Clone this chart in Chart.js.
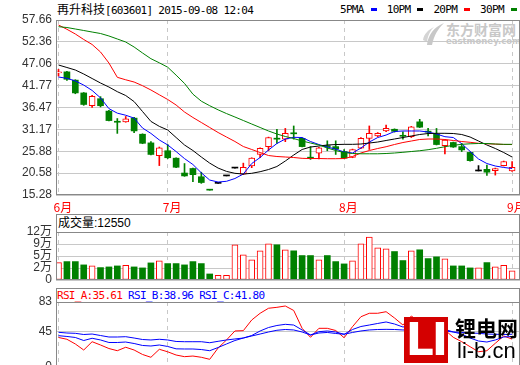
<!DOCTYPE html>
<html>
<head>
<meta charset="utf-8">
<title>再升科技 603601</title>
<script src="https://cdn.jsdelivr.net/npm/chart.js@4.4.1/dist/chart.umd.min.js"></script>
<style>
html, body { margin: 0; padding: 0; background: #fff; overflow: hidden; }
body { position: relative; width: 520px; height: 365px; font-family: 'Liberation Sans', 'Noto Sans CJK SC', sans-serif; }
canvas { position: absolute; left: 0; }
.abs { position: absolute; white-space: pre; }
.mono { font-family: 'DejaVu Sans Mono', 'Noto Sans CJK SC', monospace; font-size: 11px; letter-spacing: -0.7px; line-height: 12px; }
.cjk { font-family: 'Noto Sans CJK SC', sans-serif; letter-spacing: 0; font-size: 12px; }
.box { position: absolute; left: 56px; width: 464px; box-sizing: border-box; border: 1px solid #888; border-bottom: none; }
</style>
</head>
<body>
<div class="abs mono" style="left:57px;top:3px;"><span class="cjk">再升科技</span>[603601] 2015-09-08 12:04</div>
<div class="abs mono" id="legend" style="left:340px;top:4px;"></div>
<svg style="position:absolute;left:422px;top:21px" width="24" height="25">
  <path d="M5 24 C6 14 12 6 22 2 C16 8 12 14 10 24 Z" fill="#c8c8c8"/>
  <path d="M1 19 C2 13 6 9 12 6 C8 10 6 14 5 21 Z" fill="#d4d4d4"/>
</svg>
<div class="abs" style="left:446px;top:21px;color:#c8c8c8;font:bold 14px 'Noto Sans CJK SC';line-height:17px;">东方财富网</div>
<div class="abs" style="left:446px;top:37px;color:#c8c8c8;font:bold 8.5px 'DejaVu Sans';line-height:9px;">eastmoney.com</div>

<canvas id="main" width="520" height="203" style="top:10px"></canvas>

<div class="box" style="top:214px;height:18px"></div>
<div class="abs" id="volTitle" style="left:58px;top:216px;font-size:12px;line-height:14px;color:#000"></div>
<canvas id="vol" width="520" height="66" style="top:222px"></canvas>

<div class="box" style="top:288px;height:14px"></div>
<div class="abs mono" id="rsiTitle" style="left:57px;top:290px"></div>
<canvas id="rsi" width="520" height="80" style="top:292px"></canvas>

<div class="abs" style="left:404px;top:317px;width:44px;height:46px;background:#d40000;"></div>
<div class="abs" style="left:404px;top:317px;width:44px;height:46px;color:#fff;font:bold 44px 'DejaVu Sans';line-height:46px;text-align:center;letter-spacing:-2px;">LI</div>
<div class="abs" style="left:455px;top:315px;font:bold 21px 'Noto Sans CJK SC';line-height:24px;color:#000">锂电网</div>
<div class="abs" style="left:457px;top:339px;font:22px 'Liberation Sans';line-height:24px;color:#000">li-b.cn</div>

<script>
// candles, one per trading day from early June to 2015-09-08
const opens  = [44.85, 45.1, 43.1, 40.0, 36.9, 38.6, 35.6, 33.0, 33.0, 33.9,
                30.0, 27.9, 24.8, 26.0, 24.2, 20.6, 21.7, 19.7, 16.5, 18.1,
                19.9, 21.8, 20.3, 22.3, 25.1, 27.0, 28.9, 28.8, 30.2, 29.0,
                24.4, 25.4, 27.2, 27.0, 25.8, 24.4, 26.6, 29.0, 29.6, 30.8,
                31.2, 29.6, 29.4, 33.0, 30.6, 30.0, 27.2, 28.0, 27.0, 25.6,
                21.1, 21.5, 21.2, 22.4, 21.1];
const highs  = [45.7, 45.2, 43.2, 40.1, 39.4, 39.1, 35.8, 33.8, 34.3, 34.1,
                30.1, 28.2, 26.9, 27.5, 24.3, 22.9, 21.8, 20.8, 16.5, 18.1,
                19.9, 21.8, 23.0, 24.3, 26.7, 29.3, 31.2, 31.4, 32.0, 29.1,
                27.0, 26.8, 28.4, 28.4, 26.3, 26.4, 29.2, 32.0, 30.4, 32.2,
                31.3, 30.6, 31.9, 33.6, 31.4, 31.4, 28.7, 28.1, 27.8, 25.7,
                22.4, 22.5, 21.8, 23.5, 23.4];
const lows   = [44.1, 43.0, 39.8, 37.0, 36.5, 36.6, 33.2, 30.2, 32.9, 30.4,
                27.7, 25.0, 22.4, 24.1, 21.9, 19.8, 18.5, 18.1, 16.45, 18.1,
                19.9, 21.8, 20.2, 21.9, 24.3, 26.0, 27.8, 28.2, 28.8, 26.9,
                23.9, 24.0, 26.0, 25.1, 24.1, 24.3, 26.5, 26.3, 29.4, 30.6,
                30.5, 28.8, 29.2, 31.6, 29.6, 27.4, 25.2, 26.8, 25.8, 23.5,
                21.1, 20.0, 20.1, 22.3, 21.0];
const closes = [44.9, 43.3, 40.0, 37.2, 39.2, 36.9, 33.3, 32.9, 33.7, 30.8,
                27.8, 25.1, 26.7, 24.3, 22.0, 19.9, 20.2, 18.3, 16.45, 18.1,
                19.9, 21.8, 22.0, 24.2, 26.6, 29.2, 28.8, 30.2, 30.1, 27.0,
                24.2, 26.7, 27.0, 26.4, 24.2, 26.3, 29.0, 30.2, 30.2, 31.4,
                30.7, 29.5, 31.8, 31.7, 30.5, 27.5, 28.6, 26.9, 26.2, 23.6,
                21.1, 20.8, 21.7, 23.4, 22.0];

const ma5  = [43.85, 43.54, 42.9, 41.9, 40.6, 38.8, 36.2, 35.1, 34.6, 33.9,
              31.5, 30.2, 28.6, 27.4, 25.8, 24.1, 22.66, 20.65, 18.9, 18.42,
              18.6, 19.27, 20.36, 22.9, 24.36, 26.18, 27.75, 28.84, 29.25, 29.2,
              28.23, 27.5, 26.9, 26.4, 25.69, 25.45, 26.66, 28.1, 29.2, 29.8,
              30.66, 30.78, 30.78, 30.78, 30.53, 30.05, 29.4, 29.2, 27.7, 25.85,
              24.0, 22.9, 22.3, 21.95, 21.7];
const ma10 = [46.76, 46.16, 45.55, 44.58, 43.49, 42.4, 41.43, 40.3, 39.37, 37.9,
              35.5, 33.1, 31.9, 31.02, 29.2, 27.39, 26.05, 24.48, 23.0, 21.8,
              21.0, 20.53, 20.36, 20.53, 20.92, 21.45, 22.18, 23.51, 24.96, 26.3,
              26.9, 27.14, 27.39, 27.5, 27.55, 27.55, 27.63, 27.87, 28.11, 28.48,
              28.84, 29.2, 29.57, 29.93, 30.17, 30.22, 30.22, 30.17, 29.93, 29.32,
              28.35, 27.39, 26.54, 25.57, 24.48];
const ma20 = [56.45, 55.41, 54.27, 52.94, 51.73, 49.91, 47.25, 43.78, 43.18, 42.64,
              41.75, 40.71, 39.55, 38.41, 37.07, 35.38, 34.05, 32.84, 31.63, 30.41,
              29.32, 28.24, 27.02, 26.3, 25.57, 24.84, 24.6, 24.48, 24.36, 24.16,
              24.11, 24.11, 24.07, 24.07, 24.11, 24.6, 25.45, 26.05, 26.54, 26.97,
              27.51, 27.99, 28.35, 28.72, 28.84, 28.84, 28.72, 28.48, 28.23, 28.04,
              27.8, 27.7, 27.6, 27.52, 27.5];
const ma30 = [56.04, 55.84, 55.48, 55.12, 54.75, 54.39, 53.79, 53.06, 52.33, 51.12,
              49.67, 48.29, 47.29, 46.23, 44.3, 42.3, 39.7, 38.0, 36.9, 35.9,
              35.0, 34.17, 33.32, 32.47, 31.63, 30.78, 30.05, 29.45, 28.96, 28.35,
              27.87, 27.39, 26.66, 26.05, 25.57, 25.33, 25.26, 25.26, 25.26, 25.33,
              25.45, 25.62, 25.81, 26.0, 26.25, 26.59, 26.97, 27.31, 27.55, 27.68,
              27.75, 27.75, 27.63, 27.55, 27.55];

const volumes = [42100, 44500, 44500, 36500, 34000, 30000, 31600, 34000, 35700, 31600,
                 29200, 41300, 46200, 39700, 39700, 36500, 44500, 39700, 14600, 11400,
                 11400, 85100, 60800, 48600, 70500, 87600, 85100, 73000, 70500, 59100,
                 59100, 48600, 59100, 44500, 38900, 46200, 87600, 103800, 77800, 75400,
                 68800, 47000, 70500, 73000, 51800, 55900, 51100, 34000, 34000, 29200,
                 29200, 42100, 31600, 35700, 21900];
const volumeNow = 12550;

const rsiA = [37.7, 35.4, 29.4, 21.7, 32.3, 28.1, 23.6, 20.8, 25.2, 21.7,
              16.0, 12.4, 22.6, 19.4, 15.3, 13.2, 14.0, 12.4, 9.8, 24.3,
              34.5, 46.0, 46.4, 60.0, 68.6, 75.0, 76.2, 77.9, 72.2, 49.4,
              37.9, 49.4, 49.4, 46.6, 37.4, 51.5, 64.2, 68.6, 68.6, 70.6,
              62.6, 53.6, 65.1, 57.5, 47.3, 40.9, 47.3, 37.9, 32.3, 25.9,
              19.5, 20.8, 30.3, 39.6, 35.61];
const rsiB = [40.0, 39.0, 37.7, 33.8, 36.7, 34.5, 31.3, 31.3, 31.9, 30.0,
              27.5, 26.8, 28.1, 26.2, 23.2, 23.0, 23.0, 22.3, 20.8, 24.9,
              29.4, 33.8, 37.0, 40.2, 46.0, 50.4, 53.0, 54.5, 53.6, 47.3,
              40.9, 45.1, 46.0, 44.7, 41.8, 47.9, 51.7, 53.6, 55.6, 57.5,
              54.9, 51.1, 52.4, 51.1, 49.2, 47.9, 48.1, 44.7, 42.1, 37.0,
              33.2, 31.9, 34.5, 38.3, 38.96];
const rsiC = [44.3, 43.4, 43.0, 41.5, 42.1, 40.2, 38.3, 38.3, 38.7, 37.0,
              35.1, 34.5, 35.4, 34.5, 32.6, 32.3, 32.3, 32.3, 31.0, 32.8,
              34.5, 35.8, 37.0, 39.6, 42.1, 44.7, 46.9, 47.9, 47.3, 44.7,
              40.9, 43.4, 44.1, 42.8, 41.8, 44.1, 46.0, 47.3, 47.9, 48.1,
              47.9, 47.3, 47.3, 46.6, 46.6, 46.0, 46.0, 44.7, 44.1, 43.4,
              43.0, 42.1, 41.8, 41.5, 41.8];

const priceTicks = [15.28, 20.58, 25.88, 31.17, 36.47, 41.77, 47.06, 52.36, 57.66];
const monthTicks = [0, 13, 34, 54];
const monthLabels = ['6月', '7月', '8月', '9月'];
const volTicks = [0, 29000, 58000, 87000, 116000];
const volTickLabels = ['0', '2万', '5万', '9万', '12万'];
const rsiTicks = [0, 45, 83];

const maNames = ['5PMA', '10PM', '20PM', '30PM'];
const RED = '#ff0000', GREEN = '#008000', BLACK = '#000000', BLUE = '#0000ff';
const maColors = [BLUE, BLACK, RED, GREEN];

Chart.defaults.font.family = "'Liberation Sans', 'Noto Sans CJK SC', sans-serif";
Chart.defaults.font.size = 12;
Chart.defaults.color = '#333';

document.getElementById('legend').innerHTML = maNames.map((n, k) =>
  n + '<i style="display:inline-block;width:6px;height:3px;background:' + maColors[k] +
  ';margin:0 10px 0 7px;vertical-align:2px"></i>').join('');
document.getElementById('volTitle').textContent = '成交量:' + volumeNow;
const last = a => a[a.length - 1].toFixed(2);
document.getElementById('rsiTitle').innerHTML =
  '<span style="color:' + RED + '">RSI_A:' + last(rsiA) + '</span> ' +
  '<span style="color:' + BLUE + '">RSI_B:' + last(rsiB) + '</span> ' +
  '<span style="color:' + BLUE + '">RSI_C:' + last(rsiC) + '</span>';

const colorOf = i => closes[i] > opens[i] ? RED : (closes[i] < opens[i] ? GREEN : BLACK);
const upDay = i => closes[i] >= opens[i];
const pts = arr => arr.map((v, i) => ({ x: i, y: v }));

// gray box round each chart area
const frame = {
  id: 'frame',
  afterDraw(chart) {
    const { ctx, chartArea: a } = chart;
    ctx.save();
    ctx.strokeStyle = '#888';
    ctx.lineWidth = 1;
    ctx.strokeRect(a.left + 0.5, a.top + 0.5, a.right - a.left - 1, a.bottom - a.top - 1);
    ctx.restore();
  }
};

function xScale(showLabels) {
  return {
    type: 'linear', min: -0.3, max: 54.94, bounds: 'data', offset: false,
    afterBuildTicks: s => { s.ticks = monthTicks.map(v => ({ value: v })); },
    afterFit: s => { s.height = showLabels ? 18 : 0; s.paddingLeft = 0; s.paddingRight = 0; },
    grid: { color: '#c8c8c8', drawTicks: false, offset: false },
    border: { display: false, dash: [4, 4] },
    ticks: {
      display: showLabels, color: RED, align: 'start', labelOffset: -5, padding: 5,
      maxRotation: 0, autoSkip: false,
      font: { size: 12, family: "'Noto Sans CJK SC', sans-serif" },
      callback: (v, i) => monthLabels[i]
    }
  };
}

function yScale(min, max, ticks, label) {
  return {
    min: min, max: max, bounds: 'data',
    afterBuildTicks: s => { s.ticks = ticks.map(v => ({ value: v })); },
    afterFit: s => { s.width = 56; s.paddingTop = 0; s.paddingBottom = 0; },
    grid: { color: '#c8c8c8', drawTicks: false },
    border: { display: false },
    ticks: { padding: 4, color: '#333', autoSkip: false, callback: label }
  };
}

function baseOptions(pad, scales) {
  return {
    responsive: false, animation: false, events: [], devicePixelRatio: 1,
    layout: { padding: pad, autoPadding: false },
    plugins: { legend: { display: false }, tooltip: { enabled: false } },
    scales: scales
  };
}

const maLine = (arr, color) => ({
  type: 'line', data: pts(arr), borderColor: color, borderWidth: 1,
  pointRadius: 0, tension: 0, fill: false, order: 0
});

// price panel: wicks and bodies as floating bars, moving averages as lines
new Chart(document.getElementById('main'), {
  type: 'bar',
  data: {
    datasets: [
      maLine(ma30, GREEN), maLine(ma20, RED), maLine(ma10, BLACK), maLine(ma5, BLUE),
      {
        data: opens.map((o, i) => ({ x: i, y: [o, closes[i]] })),
        backgroundColor: opens.map((o, i) => closes[i] > o ? '#fff' : colorOf(i)),
        borderColor: opens.map((o, i) => colorOf(i)),
        borderWidth: opens.map((o, i) => closes[i] > o ? 1 : 0),
        borderSkipped: false, barThickness: 6, minBarLength: 1, grouped: false, order: 1
      },
      {
        data: lows.map((l, i) => ({ x: i, y: [l, highs[i]] })),
        backgroundColor: lows.map((l, i) => colorOf(i)),
        borderWidth: 0, barThickness: 1, grouped: false, order: 2
      }
    ]
  },
  options: baseOptions({ top: 10, right: 0, bottom: 0, left: 0 }, {
    x: xScale(true),
    y: yScale(15.28, 57.66, priceTicks, v => v.toFixed(2))
  }),
  plugins: [frame]
});

// volume panel
new Chart(document.getElementById('vol'), {
  type: 'bar',
  data: {
    datasets: [{
      data: volumes.map((v, i) => ({ x: i, y: v })),
      backgroundColor: volumes.map((v, i) => upDay(i) ? '#fff' : GREEN),
      borderColor: volumes.map((v, i) => upDay(i) ? RED : GREEN),
      borderWidth: volumes.map((v, i) => upDay(i) ? 1 : 0),
      borderSkipped: false, barThickness: 6, grouped: false
    }]
  },
  options: baseOptions({ top: 10, right: 0, bottom: 8, left: 0 }, {
    x: xScale(false),
    y: yScale(0, 116000, volTicks, (v, i) => volTickLabels[i])
  }),
  plugins: [frame]
});

// RSI panel
new Chart(document.getElementById('rsi'), {
  type: 'line',
  data: {
    datasets: [maLine(rsiC, BLUE), maLine(rsiB, BLUE), maLine(rsiA, RED)]
  },
  options: baseOptions({ top: 10, right: 0, bottom: 5, left: 0 }, {
    x: xScale(false),
    y: yScale(0, 83, rsiTicks, v => String(v))
  }),
  plugins: [frame]
});
</script>
</body>
</html>
